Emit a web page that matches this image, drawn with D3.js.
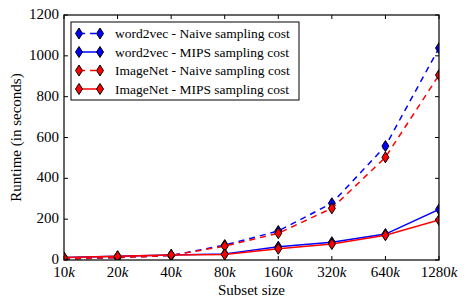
<!DOCTYPE html>
<html>
<head>
<meta charset="utf-8">
<script src="https://cdn.jsdelivr.net/npm/d3@7"></script>
<style>
  body { margin: 0; background: #fff; }
  svg { font-family: "Liberation Serif", "Times New Roman", serif; }
</style>
</head>
<body>
<svg id="chart" width="467" height="306"></svg>
<script>
(function() {

  var sizes = ["10", "20", "40", "80", "160", "320", "640", "1280"];
  var w2vNaive = [5, 12, 22, 73, 142, 278, 558, 1038];
  var w2vMips = [12, 18, 25, 30, 65, 87, 127, 248];
  var imgNaive = [5, 12, 22, 68, 131, 253, 503, 906];
  var imgMips = [12, 18, 25, 27, 55, 78, 121, 196];
  var yTicks = [0, 200, 400, 600, 800, 1000, 1200];

  var series = [
    {name : "word2vec - Naive sampling cost", values : w2vNaive, color : "#0000ff", dashed : true},
    {name : "word2vec - MIPS sampling cost", values : w2vMips, color : "#0000ff", dashed : false},
    {name : "ImageNet - Naive sampling cost", values : imgNaive, color : "#ff0000", dashed : true},
    {name : "ImageNet - MIPS sampling cost", values : imgMips, color : "#ff0000", dashed : false}
  ];

  var margin = {left : 64, top : 15, right : 28, bottom : 46};
  var width = 467 - margin.left - margin.right;
  var height = 306 - margin.top - margin.bottom;

  var svg = d3.select("#chart");
  var g = svg.append("g").attr("transform", "translate(" + margin.left + "," + margin.top + ")");

  var x = d3.scalePoint().domain(sizes).range([0, width]);
  var y = d3.scaleLinear().domain([0, 1200]).range([height, 0]);

  g.append("clipPath").attr("id", "clip")
    .append("rect").attr("width", width).attr("height", height);

  // ticks (inward, mirrored)
  var ticks = g.append("g").attr("stroke", "#000").attr("stroke-width", 1);
  yTicks.forEach(function(t) {
    ticks.append("line").attr("x1", 0).attr("x2", 4).attr("y1", y(t)).attr("y2", y(t));
    ticks.append("line").attr("x1", width).attr("x2", width - 4).attr("y1", y(t)).attr("y2", y(t));
  });
  sizes.forEach(function(s) {
    ticks.append("line").attr("x1", x(s)).attr("x2", x(s)).attr("y1", height).attr("y2", height - 4);
    ticks.append("line").attr("x1", x(s)).attr("x2", x(s)).attr("y1", 0).attr("y2", 4);
  });

  var line = d3.line().x(function(d, i) { return x(sizes[i]); }).y(function(d) { return y(d); });
  var diamond = "M0,-5.5L3.5,0L0,5.5L-3.5,0Z";

  var plot = g.append("g").attr("clip-path", "url(#clip)");
  series.forEach(function(s) {
    plot.append("path")
      .attr("d", line(s.values))
      .attr("fill", "none")
      .attr("stroke", s.color)
      .attr("stroke-width", 1.5)
      .attr("stroke-dasharray", s.dashed ? "6,5" : null);
    plot.selectAll(null).data(s.values).enter().append("path")
      .attr("d", diamond)
      .attr("transform", function(d, i) { return "translate(" + x(sizes[i]) + "," + y(d) + ")"; })
      .attr("fill", s.color)
      .attr("stroke", "#000")
      .attr("stroke-width", 1);
  });

  g.append("rect")
    .attr("width", width).attr("height", height)
    .attr("fill", "none").attr("stroke", "#000").attr("stroke-width", 1.2);

  // tick labels
  yTicks.forEach(function(t) {
    g.append("text").attr("x", -5).attr("y", y(t) + 4)
      .attr("text-anchor", "end").attr("font-size", 15).text(t);
  });
  sizes.forEach(function(s) {
    var t = g.append("text").attr("x", x(s)).attr("y", height + 16.5)
      .attr("text-anchor", "middle").attr("font-size", 15);
    t.append("tspan").text(s);
    t.append("tspan").attr("font-style", "italic").text("k");
  });

  g.append("text").attr("x", width / 2).attr("y", height + 35)
    .attr("text-anchor", "middle").attr("font-size", 15).text("Subset size");
  svg.append("text")
    .attr("transform", "translate(21," + (margin.top + height / 2) + ") rotate(-90)")
    .attr("text-anchor", "middle").attr("font-size", 15).text("Runtime (in seconds)");

  // legend
  var legend = svg.append("g").attr("transform", "translate(71,22)");
  legend.append("rect").attr("width", 228).attr("height", 78)
    .attr("fill", "#fff").attr("stroke", "#000").attr("stroke-width", 1);
  series.forEach(function(s, i) {
    var row = legend.append("g").attr("transform", "translate(0," + (11.5 + i * 18.5) + ")");
    row.append("line").attr("x1", 8).attr("x2", 29)
      .attr("stroke", s.color).attr("stroke-width", 1.5)
      .attr("stroke-dasharray", s.dashed ? "6,5" : null);
    [8, 29].forEach(function(px) {
      row.append("path").attr("d", diamond).attr("transform", "translate(" + px + ",0)")
        .attr("fill", s.color).attr("stroke", "#000").attr("stroke-width", 1);
    });
    row.append("text").attr("x", 44).attr("y", 4.5).attr("font-size", 13.5).text(s.name);
  });

})();
</script>
</body>
</html>
